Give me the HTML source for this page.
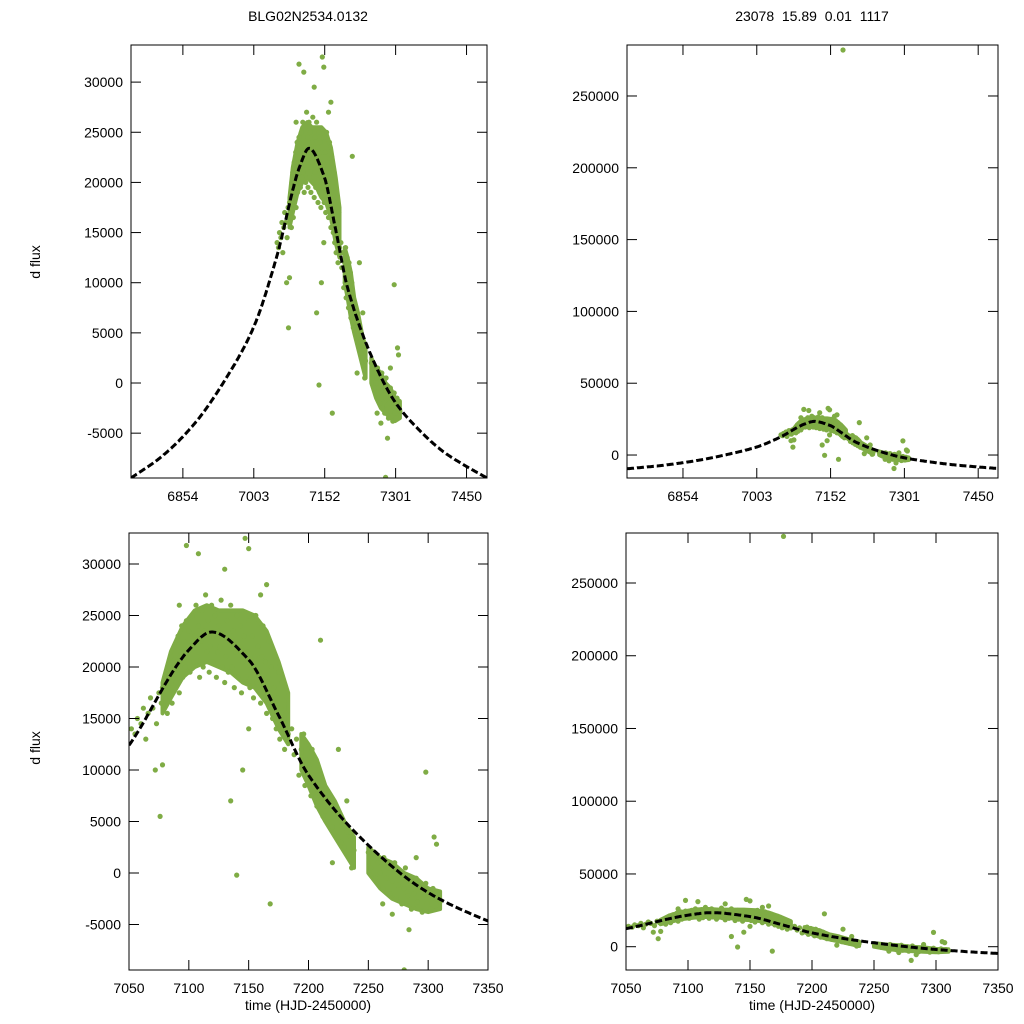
<!DOCTYPE html>
<html><head><meta charset="utf-8"><style>
body{margin:0;background:#fff;}
svg{display:block;font-family:"Liberation Sans",sans-serif;}
</style></head><body>
<svg id="chart" width="1024" height="1024" viewBox="0 0 1024 1024">
<text x="308" y="21" text-anchor="middle" font-size="14">BLG02N2534.0132</text>
<text x="812" y="21" text-anchor="middle" font-size="14" xml:space="preserve">23078  15.89  0.01  1117</text>
<text transform="translate(40,262) rotate(-90)" text-anchor="middle" font-size="14">d flux</text>
<text transform="translate(40,748) rotate(-90)" text-anchor="middle" font-size="14">d flux</text>
<text x="308" y="1010" text-anchor="middle" font-size="14">time (HJD-2450000)</text>
<text x="812" y="1010" text-anchor="middle" font-size="14">time (HJD-2450000)</text>
</svg>
<script>
// model curve samples
const modelTime = [6745, 6809, 6879, 6949, 7003, 7050, 7100, 7119, 7150, 7175, 7200, 7250, 7300, 7350, 7400, 7439, 7493];
const modelFlux = [-9470, -7350, -4020, 800, 5600, 12400, 21650, 23400, 20700, 15300, 9500, 2700, -1900, -4660, -6800, -8010, -9470];
// dense-band envelopes of the observations (segment id, time, low, high)
const envSeg  = [0,0,0,0,0,0,0,0,0,0,0,0, 1,1,1,1,1,1,1, 2,2,2,2,2,2,2];
const envTime = [7078,7085,7095,7105,7115,7125,7135,7145,7155,7165,7175,7183, 7194,7200,7207,7214,7222,7230,7238, 7250,7260,7270,7280,7290,7300,7310];
const envLow  = [15500,17000,19000,20000,20500,20000,19500,18500,18000,16500,14000,12500, 10000,8500,6500,5000,3500,2000,500, 0,-1500,-2500,-3000,-3500,-3800,-3500];
const envHigh = [18500,21500,24000,25500,26000,25500,25500,25500,25000,23500,20500,17500, 13500,12500,11000,8500,7000,5000,3500, 2500,1500,1000,0,-500,-1500,-1800];
// observations
const obsTime = [7052,7055,7057,7060,7062,7064,7066,7068,7070,7072,7073,7075,7076,7077,7078,7078,
7080,7081,7082,7083,7084,7085,7086,7087,7088,7089,7090,7091,7092,7093,7094,7095,7096,7097,7098,7099,7100,7098,7092,
7101,7102,7103,7104,7105,7106,7107,7108,7108,7109,7110,7111,7112,7113,7114,7115,7116,7117,7118,7119,7120,7121,7122,7123,7124,7125,7126,7127,7128,7129,7130,7130,
7131,7132,7133,7134,7135,7136,7137,7138,7139,7140,7140,7141,7142,7143,7144,7145,7146,7147,7148,7149,7150,7150,7151,7152,7153,7154,7155,7156,7157,7158,7159,7160,7161,7162,7163,7164,7165,7166,7167,7168,7168,7169,7170,7171,7172,7173,7174,7175,7176,7177,7178,7179,7180,7181,7182,7183,7160,7165,7135,7150,7145,
7186,7188,7190,7192,
7194,7195,7196,7197,7198,7199,7200,7201,7202,7203,7204,7205,7206,7207,7208,7209,7210,7210,7211,7212,7213,7214,
7216,7218,7220,7222,7224,7225,7227,7228,7230,7232,7234,7235,7236,7238,7225,7220,7232,
7250,7252,7254,7256,7258,7260,7262,7263,7265,7267,7268,7270,7272,7273,7275,7277,7278,7280,7281,7283,7285,7286,7288,7290,7291,7293,7295,7296,7298,7299,7300,7302,7304,7306,7308,7310,7298,7305,7307,7280,7284,7270,7290,7262,7177];
const obsFlux = [14000,13500,15000,14500,16000,13000,15500,17000,16000,10000,14500,17500,5500,16500,18000,10500,
17000,19000,15500,20000,18000,21000,16500,19500,22000,18500,20500,23000,17500,21500,24000,19000,22500,20000,24500,21000,23500,31800,26000,
19500,22000,25000,20500,23000,26000,21000,24000,31000,19000,22500,25500,20000,23500,27000,21500,24500,19500,22000,26000,20500,23000,25000,19000,21500,24000,22000,26500,20000,23000,29500,18500,
21000,24500,19500,22500,26000,20000,23500,18000,21500,25000,-200,19000,22000,24000,17500,20500,23000,32500,19000,21500,24500,31500,18000,20500,23000,17000,21000,25000,18500,22000,19500,16500,21000,24000,18000,20500,15500,19000,22500,-3000,17000,20000,15000,18000,21000,14000,17000,19500,13000,16000,18500,14500,12000,15500,17000,13500,27000,28000,7000,14000,10000,
14000,11500,13000,9500,
12000,10000,13500,8500,11000,12500,9000,10500,7500,12000,9500,8000,11000,6500,9000,10000,22600,7500,8500,5500,7000,6000,
5000,7000,4500,6000,3500,5500,3000,4800,2500,4000,1800,3500,500,2200,12000,1000,7000,
2000,500,1500,-500,1000,0,-1500,1500,-500,500,-2000,-800,1000,-2500,-1200,0,-3000,-1500,500,-2200,-1000,-3500,-2000,-500,-2800,-1500,-3800,-2300,-1000,-3000,-2000,-3500,-1500,-2500,-2000,-2800,9800,3500,2800,-9400,-5500,-4000,1500,-3000,282000];
const topTicks = [6854, 7003, 7152, 7301, 7450];
const bottomTicks = [7050, 7100, 7150, 7200, 7250, 7300, 7350];
const smallYTicks = [-5000, 0, 5000, 10000, 15000, 20000, 25000, 30000];
const bigYTicks = [0, 50000, 100000, 150000, 200000, 250000];

const NS = 'http://www.w3.org/2000/svg';
const svg = document.getElementById('chart');
function mk(tag, attrs, parent) {
  const e = document.createElementNS(NS, tag);
  for (const k in attrs) e.setAttribute(k, attrs[k]);
  (parent || svg).appendChild(e);
  return e;
}
const panels = [
  {id:'top-left', x0:131, x1:487, y0:45, y1:478, tmin:6745, tmax:7493, fmin:-9470, fmax:33700, xt:topTicks, yt:smallYTicks},
  {id:'top-right', x0:627, x1:998, y0:45, y1:478, tmin:6741, tmax:7490, fmin:-16000, fmax:285500, xt:topTicks, yt:bigYTicks},
  {id:'bottom-left', x0:129, x1:488, y0:533, y1:970, tmin:7050, tmax:7350, fmin:-9417, fmax:33010, xt:bottomTicks, yt:smallYTicks},
  {id:'bottom-right', x0:626, x1:998, y0:533, y1:970, tmin:7050, tmax:7350, fmin:-16016, fmax:284370, xt:bottomTicks, yt:bigYTicks}
];
function interp(t) {
  const n = modelTime.length;
  if (t <= modelTime[0]) return modelFlux[0];
  if (t >= modelTime[n-1]) return modelFlux[n-1];
  let i = 0; while (modelTime[i+1] < t) i++;
  const slope = k => {
    if (k === 0) return (modelFlux[1]-modelFlux[0])/(modelTime[1]-modelTime[0]);
    if (k === n-1) return (modelFlux[n-1]-modelFlux[n-2])/(modelTime[n-1]-modelTime[n-2]);
    const a = (modelFlux[k]-modelFlux[k-1])/(modelTime[k]-modelTime[k-1]);
    const b = (modelFlux[k+1]-modelFlux[k])/(modelTime[k+1]-modelTime[k]);
    return a*b <= 0 ? 0 : 2/(1/a+1/b);
  };
  const h = modelTime[i+1]-modelTime[i], s = (t-modelTime[i])/h;
  const h00 = 2*s*s*s-3*s*s+1, h10 = s*s*s-2*s*s+s, h01 = -2*s*s*s+3*s*s, h11 = s*s*s-s*s;
  return h00*modelFlux[i] + h10*h*slope(i) + h01*modelFlux[i+1] + h11*h*slope(i+1);
}
panels.forEach((p, pi) => {
  const X = t => p.x0 + (t-p.tmin)/(p.tmax-p.tmin)*(p.x1-p.x0);
  const Y = f => p.y1 - (f-p.fmin)/(p.fmax-p.fmin)*(p.y1-p.y0);
  const g = mk('g', {});
  
  
  const cp = mk('clipPath', {id:'clip'+pi}, g);
  mk('rect', {x:p.x0, y:p.y0, width:p.x1-p.x0, height:p.y1-p.y0}, cp);
  const pts = mk('g', {'clip-path':'url(#clip'+pi+')', fill:'#7fac45'}, g);
  
  
  const segs = [...new Set(envSeg)];
  segs.forEach(s => {
    const idx = envSeg.map((v,i)=>v===s?i:-1).filter(i=>i>=0);
    let d = '';
    idx.forEach((i,k) => { d += (k?'L':'M') + X(envTime[i]).toFixed(1) + ',' + Y(envHigh[i]).toFixed(1); });
    idx.slice().reverse().forEach(i => { d += 'L' + X(envTime[i]).toFixed(1) + ',' + Y(envLow[i]).toFixed(1); });
    const band = mk('path', {d:d+'Z', fill:'#7fac45', stroke:'#7fac45', 'stroke-width':4, 'stroke-linejoin':'round'}, pts);
    
    
  });
  for (let i = 0; i < obsTime.length; i++) {
    const c = mk('circle', {cx:X(obsTime[i]).toFixed(1), cy:Y(obsFlux[i]).toFixed(1), r:2.6}, pts);
    
    
  }
  let d = '';
  for (let t = p.tmin; t <= p.tmax; t += 1) d += (d ? 'L' : 'M') + X(t).toFixed(1) + ',' + Y(interp(t)).toFixed(1);
  const path = mk('path', {d:d, fill:'none', stroke:'#000', 'stroke-width':3, 'stroke-dasharray':'7,3', 'clip-path':'url(#clip'+pi+')'}, g);
  
  
  const fr = mk('rect', {x:p.x0, y:p.y0, width:p.x1-p.x0, height:p.y1-p.y0, fill:'none', stroke:'#000', 'stroke-width':1}, g);
  
  
  p.xt.forEach(t => {
    const x = X(t);
    mk('line', {x1:x, x2:x, y1:p.y1, y2:p.y1-10, stroke:'#000'}, g);
    mk('line', {x1:x, x2:x, y1:p.y0, y2:p.y0+10, stroke:'#000'}, g);
    const tx = mk('text', {x:x, y:p.y1+23, 'text-anchor':'middle', 'font-size':14}, g);
    tx.textContent = t;
    
    
  });
  p.yt.forEach(f => {
    const y = Y(f);
    mk('line', {x1:p.x0, x2:p.x0+10, y1:y, y2:y, stroke:'#000'}, g);
    mk('line', {x1:p.x1, x2:p.x1-10, y1:y, y2:y, stroke:'#000'}, g);
    const tx = mk('text', {x:p.x0-8, y:y+5, 'text-anchor':'end', 'font-size':14}, g);
    tx.textContent = f;
    
    
  });
});
</script>
</body></html>
